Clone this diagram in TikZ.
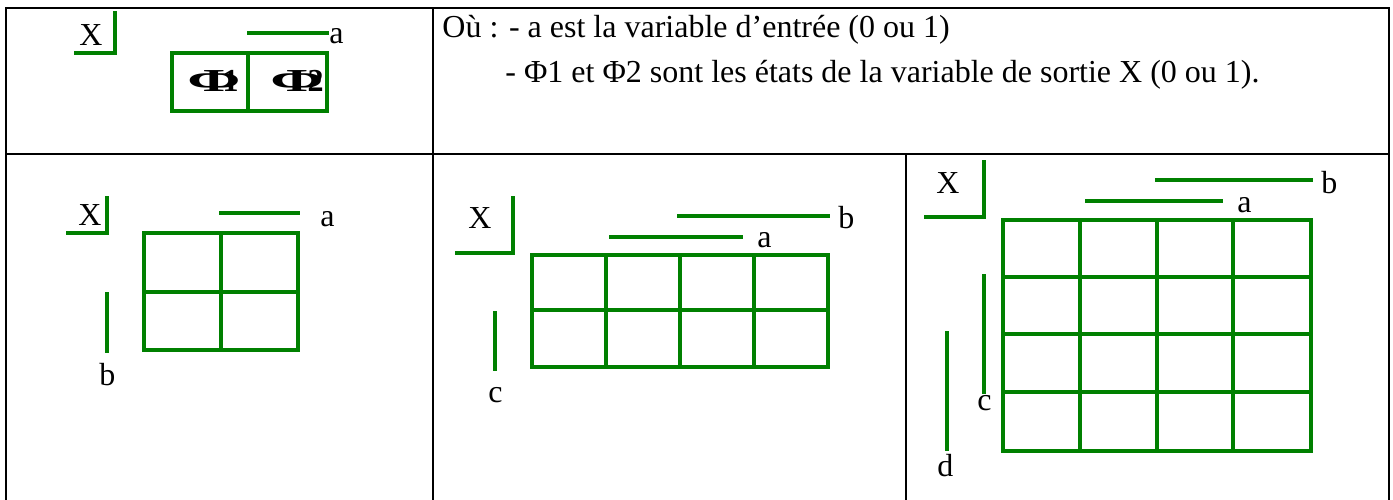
\documentclass[tikz,border=0pt]{standalone}
\usepackage{fontspec}
\setmainfont{Liberation Serif}
\usetikzlibrary{positioning}
\definecolor{kgreen}{HTML}{008000}

\begin{document}
\begin{tikzpicture}[x=0.5pt,y=-0.5pt,font=\fontsize{16}{22}\selectfont]
\tikzset{frame/.style={line width=1.2pt,black},
  kbar/.style={line width=1.6pt,kgreen,line cap=rect},
  lbl/.style={inner sep=0pt,anchor=base west},
  phi/.style={inner sep=0pt,font=\fontsize{16}{22}\selectfont\bfseries}}
\useasboundingbox (0,0) rectangle (1393,499);
% table frame
\draw[frame] (6,510) -- (6,8) -- (1389,8) -- (1389,510);
\draw[frame] (6,154) -- (1389,154);
\draw[frame] (433,8) -- (433,510);
\draw[frame] (906,154) -- (906,510);

% legend: one variable
\node[lbl] (x0) at (79,45) {X};
\draw[kbar] (115,13) -- (115,53) -- (76,53);
\draw[kbar] (249,33) -- (327,33);
\node[lbl] (a0) at (329,43) {a};
\draw[kbar] (172,53) rectangle (327,111) (248,53) -- (248,111);
\node[phi] (phi1) at (213,81) {\scalebox{2}[1]{Φ}\kern-9pt 1};
\node[phi] (phi2) at (297,81) {\scalebox{2}[1]{Φ}\kern-8pt 2};
\node[lbl] (note1) at (442,37) {Où : - a est la variable d’entrée (0 ou 1)};
\node[lbl] (note2) at (505,82) {- Φ1 et Φ2 sont les états de la variable de sortie X (0 ou 1).};

% two variables
\node[lbl] (x1) at (78,225) {X};
\draw[kbar] (107,198) -- (107,233) -- (68,233);
\draw[kbar] (221,213) -- (298,213);
\node[lbl] (a1) at (320,226) {a};
\draw[kbar] (107,294) -- (107,351);
\node[lbl] (b1) at (99,385) {b};
\foreach \x in {144,221,298} \draw[kbar] (\x,233) -- (\x,350);
\foreach \y in {233,292,350} \draw[kbar] (144,\y) -- (298,\y);

% three variables
\node[lbl] (x2) at (468,228) {X};
\draw[kbar] (513,198) -- (513,253) -- (457,253);
\draw[kbar] (679,216) -- (828,216);
\node[lbl] (b2) at (838,228) {b};
\draw[kbar] (611,237) -- (741,237);
\node[lbl] (a2) at (757,247) {a};
\draw[kbar] (495,313) -- (495,369);
\node[lbl] (c2) at (488,402) {c};
\foreach \x in {532,606,680,754,828} \draw[kbar] (\x,255) -- (\x,367);
\foreach \y in {255,310,367} \draw[kbar] (532,\y) -- (828,\y);

% four variables
\node[lbl] (x3) at (936,193) {X};
\draw[kbar] (984,162) -- (984,217) -- (926,217);
\draw[kbar] (1157,180) -- (1311,180);
\node[lbl] (b3) at (1321,193) {b};
\draw[kbar] (1087,201) -- (1221,201);
\node[lbl] (a3) at (1237,212) {a};
\draw[kbar] (984,276) -- (984,392);
\node[lbl] (c3) at (977,410) {c};
\draw[kbar] (947,333) -- (947,449);
\node[lbl] (d3) at (937,476) {d};
\foreach \x in {1003,1080,1157,1233,1311} \draw[kbar] (\x,220) -- (\x,451);
\foreach \y in {220,277,334,392,451} \draw[kbar] (1003,\y) -- (1311,\y);
\end{tikzpicture}
\end{document}
